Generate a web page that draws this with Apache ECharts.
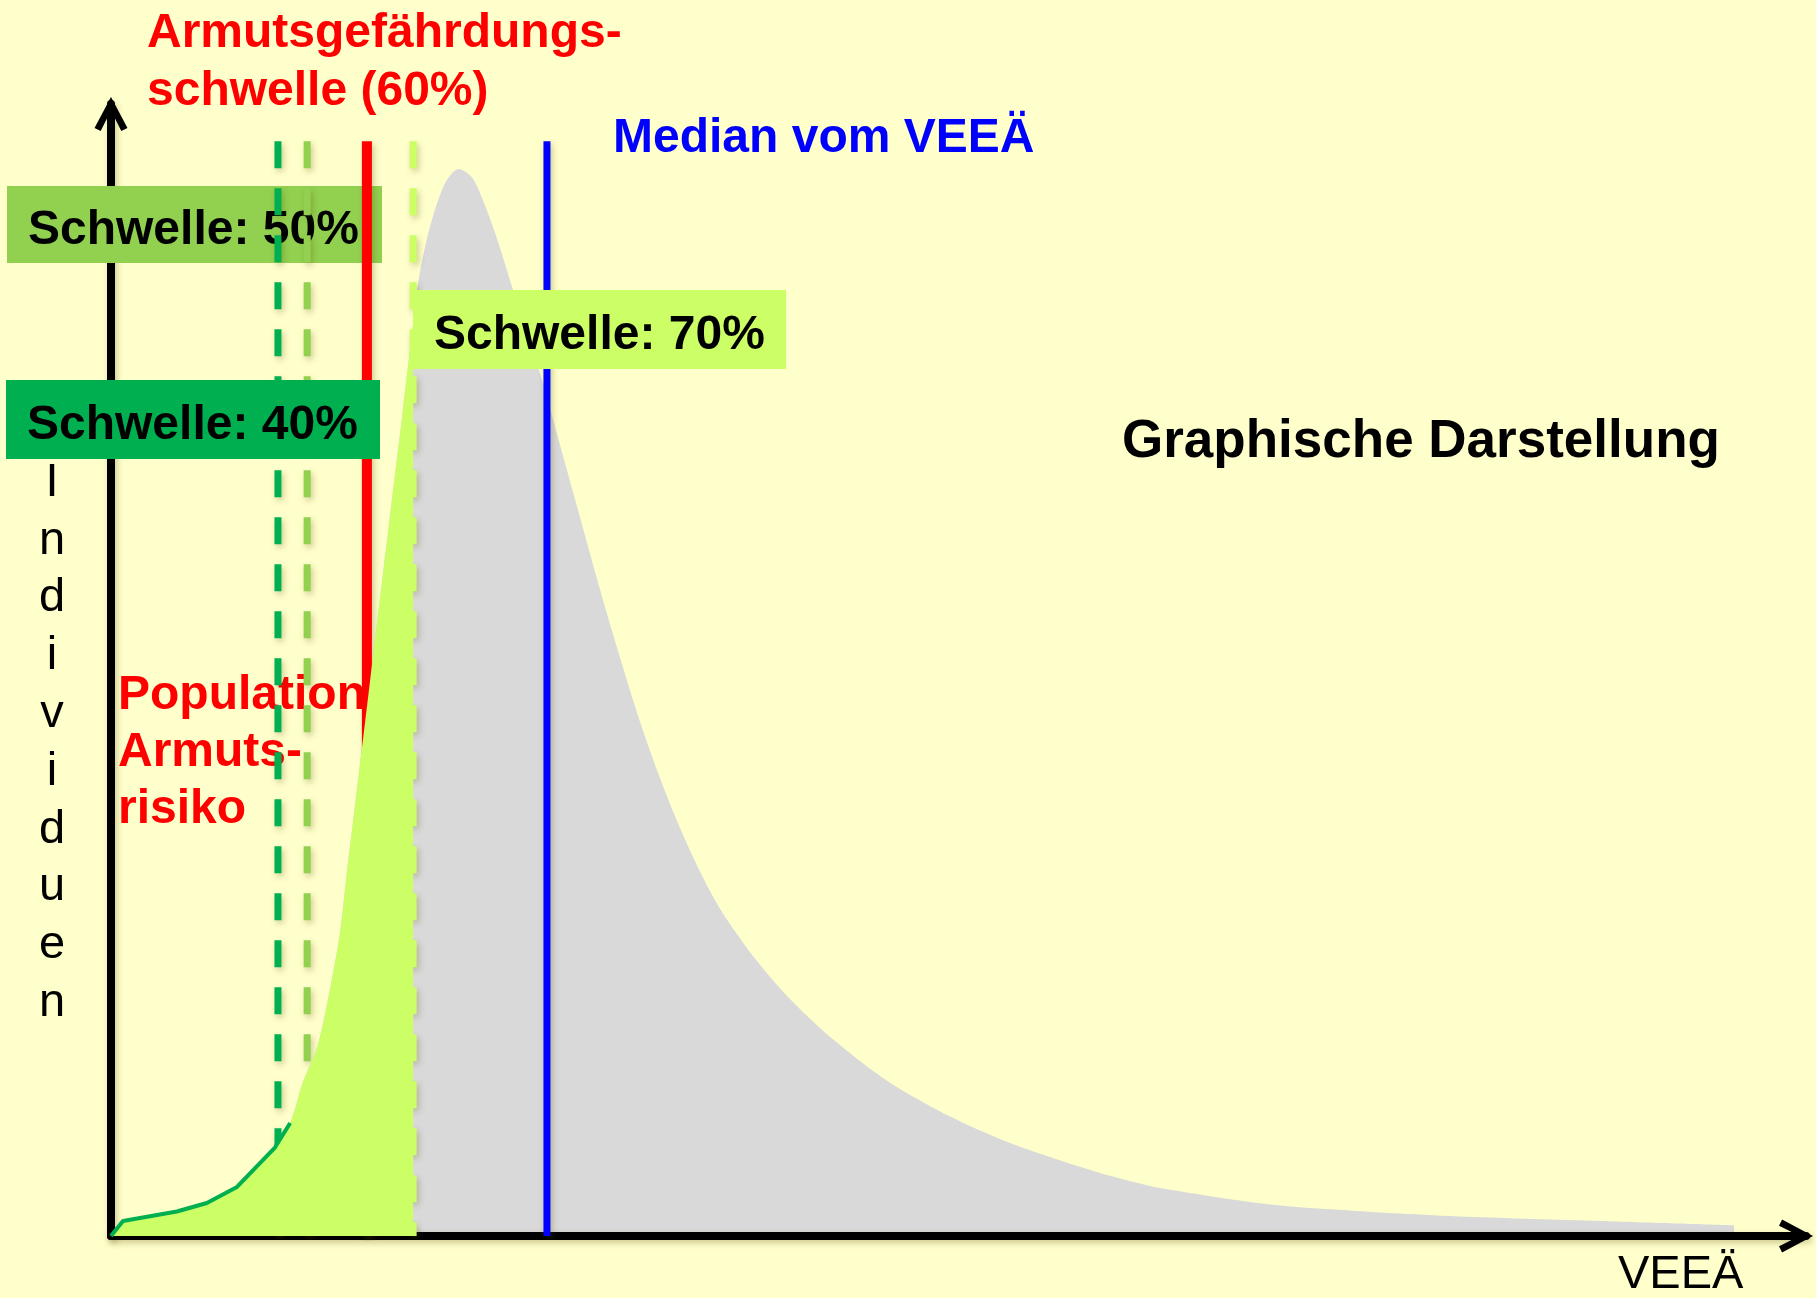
<!DOCTYPE html>
<html>
<head>
<meta charset="utf-8">
<title>Armutsgefährdungsschwelle</title>
<script src="https://cdn.jsdelivr.net/npm/echarts@6/dist/echarts.min.js"></script>
<style>
  html, body { margin: 0; padding: 0; background: #FFFFCC; }
  #chart { width: 1816px; height: 1298px; }
</style>
</head>
<body>
<div id="chart"></div>
<script>
// VEEÄ in % vom Median (Median = 100), Individuen relativ zum Gipfel (= 100)
const veea = [0, 2.75, 15.1, 22.0, 28.9, 37.6, 41.1, 44.0, 47.3, 50.2, 52.5, 54.1, 55.5, 57.1,
  59.4, 61.7, 64.0, 66.8, 69.3, 70.4, 72.5, 74.8, 77.1, 79.8, 82.6, 84.6, 88.1, 92.2, 96.1,
  99.1, 103.0, 107.6, 112.2, 116.8, 121.3, 125.9, 130.5, 135.1, 139.7, 145.9, 151.2, 155.8,
  160.3, 164.9, 174.1, 181.0, 192.5, 203.9, 215.4, 226.9, 238.3, 249.8, 261.3, 272.7, 284.2,
  295.7, 311.0, 341.6, 372.3];
const individuen = [0, 1.4, 2.3, 3.1, 4.6, 8.3, 10.6, 14.4, 17.7, 23.1, 28.4, 34.1, 38.8, 44.2,
  52.0, 59.8, 67.6, 76.9, 85.6, 89.3, 93.6, 96.9, 99.1, 100.1, 99.4, 97.9, 94.1, 88.8, 83.8,
  80.0, 74.2, 67.4, 60.6, 54.2, 48.3, 43.0, 38.3, 34.2, 30.7, 27.0, 24.3, 22.2,
  20.4, 18.7, 15.7, 13.8, 11.2, 9.1, 7.4, 5.9, 4.7, 3.9, 3.2, 2.7, 2.4,
  2.1, 1.8, 1.4, 1.0];

// Schwellen (Lage auf der VEEÄ-Achse, aus dem Bild gelesen)
const schwellen = ['40%', '50%', '60%', '70%'];
const schwelleX = [38.3, 45.0, 58.7, 69.3];
const schwelleFarbe = ['#00B050', '#92D050', '#FF0000', '#CCFF66'];
const medianX = 100;
const linienOben = 102.7;
const konturBis = 41.1; // dunkelgrüne Kontur der Armutspopulation

const FONT = "'Liberation Sans', Arial, Helvetica, sans-serif";
const bold = (s) => 'bold ' + s + 'px ' + FONT;

const chart = echarts.init(document.getElementById('chart'));

const kurve = veea.map((x, i) => [x, individuen[i]]);
const armut = kurve.filter(p => p[0] <= schwelleX[3]);
const kontur = kurve.filter(p => p[0] <= konturBis);

const schatten = { shadowColor: 'rgba(90,80,0,0.3)', shadowBlur: 6, shadowOffsetX: 2, shadowOffsetY: 3 };

const chevron = 'path://M16,0 L32,30 L26,33 L16,13 L6,33 L0,30 Z';

let series = [{
  type: 'line',
  name: 'Verteilung',
  data: kurve,
  smooth: 0.3,
  symbol: 'none',
  silent: true,
  z: 1,
  lineStyle: { width: 0 },
  areaStyle: { color: '#D9D9D9', opacity: 1 }
}];

schwelleX.forEach((x, i) => {
  series.push({
    type: 'line',
    name: 'Schwelle ' + schwellen[i],
    data: [[x, linienOben], [x, 0]],
    symbol: 'none',
    silent: true,
    z: 4,
    lineStyle: Object.assign({
      color: schwelleFarbe[i],
      width: i == 2 ? 10 : 7,
      type: i == 2 ? 'solid' : [27, 20],
      cap: 'butt'
    }, schatten)
  });
});

series.push({
  type: 'line',
  name: 'Median',
  data: [[medianX, linienOben], [medianX, 0]],
  symbol: 'none',
  silent: true,
  z: 4,
  lineStyle: Object.assign({ color: '#0000FF', width: 7 }, schatten)
});

series.push({
  type: 'line',
  name: 'Armutsrisiko',
  data: armut,
  smooth: 0.3,
  symbol: 'none',
  silent: true,
  z: 5,
  lineStyle: { width: 0 },
  areaStyle: { color: '#CCFF66', opacity: 1 }
});

series.push({
  type: 'line',
  name: 'Kontur',
  data: kontur,
  symbol: 'none',
  silent: true,
  z: 5,
  lineStyle: { color: '#00B050', width: 4 }
});

const achse = {
  show: true,
  onZero: false,
  symbol: ['none', chevron],
  symbolSize: [34, 34],
  symbolOffset: [0, -10],
  lineStyle: Object.assign({ color: '#000', width: 8 }, schatten)
};

function box(x, y, w, h, farbe, text, z) {
  return [
    { type: 'rect', shape: { x: x, y: y, width: w, height: h }, style: { fill: farbe }, z: z },
    { type: 'text', x: x + 21, y: y + h / 2 + 6, z: z,
      style: { text: text, font: bold(48), fill: '#000', textVerticalAlign: 'middle', verticalAlign: 'middle' } }
  ];
}

function label(text, x, y, font, farbe, lh, align, z) {
  return { type: 'text', x: x, y: y, z: z || 7,
    style: { text: text, font: font, fill: farbe, lineHeight: lh,
      textAlign: align || 'left', align: align || 'left',
      textVerticalAlign: 'top', verticalAlign: 'top' } };
}

const graphic = []
  .concat(box(7, 186, 375, 77, '#92D050', 'Schwelle: 50%', 3))
  .concat(box(6, 380, 374, 79, '#00B050', 'Schwelle: 40%', 6))
  .concat(box(413, 290, 373, 79, '#CCFF66', 'Schwelle: 70%', 6))
  .concat([
    label('Armutsgefährdungs-\nschwelle (60%)', 147, 5, bold(48), '#FF0000', 58),
    label('Median vom VEEÄ', 613, 110, bold(48), '#0000FF', 57),
    label('Graphische Darstellung', 1122, 412, bold(53), '#000', 60),
    label('Population\nArmuts-\nrisiko', 118, 667, bold(48), '#FF0000', 57, 'left', 3),
    label('I\nn\nd\ni\nv\ni\nd\nu\ne\nn', 52, 454, '47px ' + FONT, '#000', 57.8, 'center'),
    label('VEEÄ', 1618, 1247, '47px ' + FONT, '#000', 57)
  ]);

const option = {
  backgroundColor: '#FFFFCC',
  animation: false,
  grid: { left: 111, right: 10, top: 104, bottom: 62 },
  xAxis: {
    type: 'value', min: 0, max: 388.8, z: 2,
    axisLine: achse,
    axisTick: { show: false }, axisLabel: { show: false }, splitLine: { show: false }
  },
  yAxis: {
    type: 'value', min: 0, max: 106.2, z: 2,
    axisLine: achse,
    axisTick: { show: false }, axisLabel: { show: false }, splitLine: { show: false }
  },
  series: series,
  graphic: graphic
};

chart.setOption(option);
</script>
</body>
</html>
